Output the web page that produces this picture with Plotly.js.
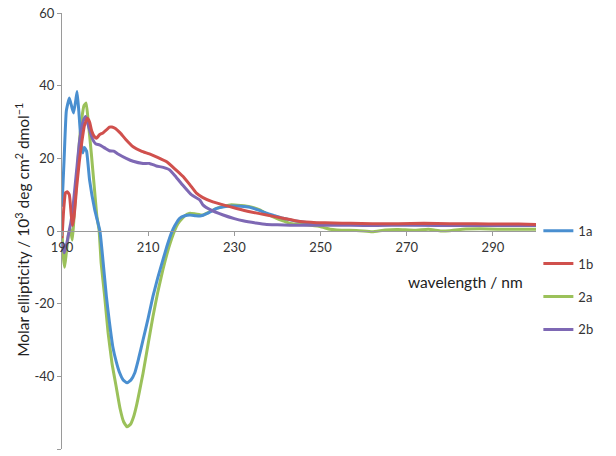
<!DOCTYPE html>
<html>
<head>
<meta charset="utf-8">
<script src="https://cdn.plot.ly/plotly-3.0.1.min.js"></script>
<style>html,body{margin:0;padding:0;background:#fff;}#chart{width:616px;height:456px;}</style>
</head>
<body>
<div id="chart"></div>
<script>
// Series names
const seriesNames = ["1a", "1b", "2a", "2b"];
// Tick labels
const xTicks = [190, 210, 230, 250, 270, 290];
const yTicks = [-60, -40, -20, 0, 20, 40, 60];

// 1a
const x1a = [190, 190.5, 191, 191.7, 192.3, 192.7, 193.2, 193.5, 193.9, 194.4, 194.8, 195.2, 195.7, 196.4, 197.6, 198.8, 199.5, 200.3, 201, 201.8, 202.6, 203.4, 204.2, 205.1, 206, 206.9, 207.8, 208.8, 210, 211.1, 212.2, 213.4, 214.4, 215.4, 216.2, 217.3, 218.5, 219.7, 221, 222, 224, 225.9, 227.6, 229.3, 231.5, 233.6, 235.5, 237.5, 239.4, 241.3, 243.2, 245.2, 247, 249.1, 252, 256, 260, 265, 270, 275, 280, 285, 290, 295, 300];
const y1a = [6.7, 20, 33, 36.6, 34, 32.5, 36, 38.4, 33, 25, 21.5, 23, 22, 14, 5.8, 0, -8, -18, -25, -31.9, -36, -39.1, -41, -41.8, -41, -39, -35, -30, -24, -18, -13, -8, -4, -0.5, 1.5, 3.5, 4.2, 4.4, 4.2, 4.1, 5, 6.2, 6.7, 6.9, 6.8, 6.5, 5.8, 4.9, 4.2, 3.5, 3.0, 2.6, 2.3, 2.1, 1.9, 1.8, 1.8, 1.8, 1.8, 1.7, 1.7, 1.7, 1.6, 1.6, 1.6];

// 1b
const x1b = [190, 190.4, 190.8, 191.2, 191.7, 192.1, 192.4, 192.8, 193.4, 194, 194.6, 195.2, 195.9, 196.4, 196.9, 197.5, 198, 198.7, 199.5, 200.3, 201, 201.6, 202.4, 203.5, 204.8, 206.5, 208.4, 210.3, 212.3, 214.2, 216.1, 218.1, 219.7, 221.2, 222.7, 225, 227.4, 230.5, 233.6, 237.5, 241.3, 245.2, 249.1, 253, 257, 262, 268, 274, 280, 286, 292, 296, 300];
const y1b = [-2, 6, 10.5, 10.8, 10, 5, 1.5, 4, 12, 19, 24.5, 29, 31, 30, 27.5, 26, 25.5, 26.5, 27, 27.8, 28.6, 28.6, 28.2, 27, 25.2, 23.2, 22, 21.2, 20.2, 19.1, 17.2, 15, 12.7, 10.4, 9.2, 8, 7.2, 6.2, 5.3, 4.4, 3.5, 2.6, 2.3, 2.2, 2.1, 2.0, 2.0, 2.1, 2.0, 2.0, 1.9, 1.9, 1.8];

// 2a
const x2a = [190, 190.3, 190.6, 191, 191.5, 191.9, 192.4, 192.8, 193.4, 194, 194.6, 195.1, 195.6, 196.1, 196.8, 197.5, 198.1, 198.6, 199.1, 199.9, 200.7, 201.6, 202.6, 203.5, 204.3, 205.1, 205.9, 206.6, 207.3, 208, 208.8, 210, 211.1, 212.2, 213.4, 214.8, 216.2, 216.9, 218, 219, 219.7, 221, 222.7, 224.3, 225.9, 227.6, 229.3, 231.5, 233.6, 235.9, 237.8, 239.8, 241.3, 242.9, 244.8, 246.8, 249.9, 252.2, 253.8, 256, 259, 262, 265, 268, 272, 275, 278, 280, 283, 287, 291, 295, 300];
const y2a = [-0.6, -7, -10, -6, -1, 0.7, -2.5, 4, 14, 24, 31, 34.5, 35.2, 30, 21.4, 12, 4, 0.3, -9, -18, -28, -36.4, -43, -49, -52.5, -53.9, -53.2, -51.2, -48, -44, -39.2, -31, -23.6, -17, -10.7, -4.5, 0.3, 2, 3.6, 4.6, 4.9, 4.7, 4.4, 5.3, 6.2, 6.8, 7.2, 7.0, 6.7, 5.8, 4.6, 3.5, 2.8, 2.1, 1.9, 1.7, 1.2, 0.5, 0.3, 0.2, 0.1, -0.2, 0.3, 0.4, 0.2, 0.5, 0.0, 0.1, 0.5, 0.6, 0.5, 0.5, 0.5];

// 2b
const x2b = [190, 190.5, 191, 191.5, 192, 192.5, 193, 193.5, 194, 194.5, 195, 195.5, 196, 196.6, 197.2, 197.8, 198.7, 200, 201, 202, 203, 204.9, 206.5, 208.8, 210.3, 211.9, 213.5, 215, 216.5, 218.1, 220, 222, 222.7, 224.5, 227.4, 230, 232, 235, 237.5, 240, 242.9, 247, 252, 257, 263, 270, 277, 284, 290, 295, 300];
const y2b = [-3, -6, -4, -1, 2, 6, 12, 18, 24, 28, 30.5, 31.5, 29.5, 27, 25, 24, 23.7, 22.8, 22.1, 22, 21.2, 20, 19.2, 18.6, 18.6, 17.9, 17.5, 16.8, 14.8, 12.5, 10, 8.5, 7.2, 5.8, 4.4, 3.4, 2.8, 2.2, 1.8, 1.7, 1.6, 1.6, 1.6, 1.6, 1.5, 1.6, 1.5, 1.5, 1.5, 1.5, 1.5];

const colors = ["#4a8fd0", "#d0504d", "#9bc15a", "#7e68b4"];
const xs = [x1a, x1b, x2a, x2b];
const ys = [y1a, y1b, y2a, y2b];

const traces = [0,1,2,3].map(i => ({
  type: "scatter", mode: "lines",
  x: xs[i], y: ys[i], name: seriesNames[i],
  legendgroup: "g" + i, legendrank: i + 1,
  line: {color: colors[i], width: 3, shape: "spline", smoothing: 0.4}
}));
// drawing order: 2a, 1a, 2b, 1b (1b on top); legend order by legendrank
const ordered = [traces[2], traces[0], traces[3], traces[1]];

const font = {family: "Lato, 'Open Sans', sans-serif", size: 13, color: "#333"};
const layout = {
  width: 616, height: 456,
  margin: {l: 62, r: 80, t: 13, b: 7},
  paper_bgcolor: "#fff", plot_bgcolor: "#fff",
  font: font,
  showlegend: true,
  legend: {x: 1.005, xanchor: "left", y: 0.535, yanchor: "top", bgcolor: "rgba(0,0,0,0)",
           traceorder: "grouped", tracegroupgap: 13, itemwidth: 30,
           font: {family: font.family, size: 13, color: "#333"}},
  xaxis: {range: [190, 300], tickvals: xTicks, ticktext: xTicks.map(String),
          showline: true, linecolor: "#9a9a9a", linewidth: 1, ticks: "outside", ticklen: 4, tickcolor: "#9a9a9a",
          anchor: "free", position: 0.5, showgrid: false, zeroline: false, tickfont: {size: 13, color: "#333"}},
  yaxis: {range: [-60, 60], tickvals: yTicks, ticktext: yTicks.map(String),
          showline: true, linecolor: "#9a9a9a", linewidth: 1, ticks: "outside", ticklen: 4, tickcolor: "#9a9a9a",
          showgrid: false, zeroline: false, tickfont: {size: 13, color: "#333"}},
  annotations: [
    {text: "wavelength / nm", xref: "paper", yref: "paper", x: 0.852, y: 0.383, xanchor: "center", yanchor: "middle",
     showarrow: false, font: {size: 15.5, color: "#222", family: font.family}},
    {text: "Molar ellipticity / 10<sup>3</sup> deg cm<sup>2</sup> dmol<sup>\u22121</sup>", xref: "paper", yref: "paper",
     x: -0.085, y: 0.502, xanchor: "center", yanchor: "middle", textangle: -90,
     showarrow: false, font: {size: 15.5, color: "#222", family: font.family}}
  ]
};

Plotly.newPlot("chart", ordered, layout, {displayModeBar: false, staticPlot: true});
</script>
</body>
</html>
